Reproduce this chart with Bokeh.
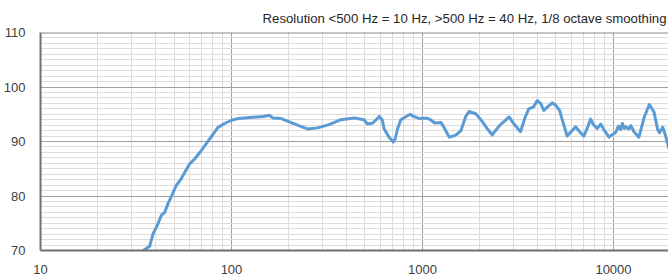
from bokeh.plotting import figure
from bokeh.models import FixedTicker, PrintfTickFormatter, Range1d, Span
from bokeh.embed import file_html
from bokeh.resources import INLINE

title_text = "Resolution <500 Hz = 10 Hz, >500 Hz = 40 Hz, 1/8 octave smoothing"

freq = [34.5, 37.3, 38.8, 41.2, 43, 44.7, 46.5, 49, 51.3, 54.6, 57.5, 60.4, 64.1, 69.4, 73, 76.9,
        81, 85, 92, 100, 108, 117, 125, 137, 147, 158, 165, 182, 204, 225, 250, 282, 324, 374,
        440, 494, 515, 550, 594, 615, 630, 668, 703, 720, 740, 770, 813, 862, 897, 970, 1050,
        1100, 1160, 1250, 1300, 1380, 1450, 1500, 1590, 1680, 1750, 1900, 2000, 2070, 2200,
        2320, 2450, 2560, 2700, 2840, 3000, 3260, 3450, 3600, 3800, 3990, 4150, 4320, 4500,
        4780, 5000, 5220, 5500, 5720, 6000, 6330, 6650, 6990, 7300, 7590, 7900, 8230, 8570,
        8900, 9470, 9800, 10280, 10600, 10900, 11140, 11400, 11600, 12000, 12330, 12800,
        13580, 14000, 14500, 15400, 16300, 17000, 17400, 18100, 18700, 19200, 19600]
spl = [70.0, 70.8, 73.0, 74.9, 76.5, 77.0, 78.6, 80.3, 81.9, 83.2, 84.6, 85.9, 86.8, 88.3, 89.4, 90.5,
       91.6, 92.6, 93.3, 93.9, 94.2, 94.3, 94.4, 94.5, 94.6, 94.8, 94.3, 94.2, 93.5, 92.9, 92.3, 92.5, 93.1, 94.0,
       94.3, 94.0, 93.2, 93.4, 94.6, 94.0, 92.3, 90.8, 89.9, 90.5, 92.3, 94.0, 94.5, 95.0, 94.6, 94.2, 94.3,
       94.0, 93.4, 93.5, 92.5, 90.8, 91.0, 91.2, 92.0, 94.5, 95.5, 95.1, 94.2, 93.5, 92.2,
       91.2, 92.3, 93.1, 93.8, 94.5, 93.3, 91.8, 94.5, 96.0, 96.3, 97.5, 97.0, 95.7, 96.3,
       97.1, 96.6, 95.7, 93.0, 91.0, 91.8, 92.7, 91.8, 91.0, 92.5, 94.1, 93.0, 92.4, 93.2,
       92.2, 90.8, 91.2, 91.7, 92.8, 92.2, 93.3, 92.4, 92.7, 92.3, 92.9, 91.8,
       90.8, 92.5, 94.5, 96.8, 95.4, 92.3, 91.6, 92.6, 91.2, 89.6, 88.5]

x_major = [10, 100, 1000, 10000]
x_minor = [20, 30, 40, 50, 60, 70, 80, 90,
           200, 300, 400, 500, 600, 700, 800, 900,
           2000, 3000, 4000, 5000, 6000, 7000, 8000, 9000]
y_major = [70, 80, 90, 100, 110]
y_minor = [71, 72, 73, 74, 75, 76, 77, 78, 79, 81, 82, 83, 84, 85, 86, 87, 88, 89,
           91, 92, 93, 94, 95, 96, 97, 98, 99, 101, 102, 103, 104, 105, 106, 107, 108, 109]

p = figure(width=668, height=276, x_axis_type="log", output_backend="svg",
           toolbar_location=None,
           x_range=Range1d(10, 19410), y_range=Range1d(70, 110),
           min_border_left=39, min_border_right=0, min_border_top=32, min_border_bottom=26)
p.outline_line_color = None
p.background_fill_color = "white"
p.border_fill_color = "white"

p.title.text = title_text
p.title.align = "right"
p.title.vertical_align = "middle"
p.title.text_font = "Liberation Sans"
p.title.text_font_size = "13.2px"
p.title.text_font_style = "normal"
p.title.text_color = "#262626"
p.title.standoff = 12
p.title.offset = 2

p.xaxis.ticker = FixedTicker(ticks=x_major, minor_ticks=x_minor)
p.yaxis.ticker = FixedTicker(ticks=y_major, minor_ticks=y_minor)
p.xaxis.formatter = PrintfTickFormatter(format="%d")

for ax in (p.xaxis, p.yaxis):
    ax.axis_line_color = "#6e6e6e"
    ax.axis_line_width = 2
    ax.major_tick_line_color = None
    ax.minor_tick_line_color = None
    ax.major_label_text_font = "Liberation Sans"
    ax.major_label_text_font_size = "13px"
    ax.major_label_text_color = "#404040"
p.yaxis.major_label_standoff = 9
p.xaxis.major_label_standoff = 8

for g in (p.xgrid, p.ygrid):
    g.grid_line_color = "#a0a0a0"
    g.grid_line_width = 1
    g.minor_grid_line_color = "#dcdcdc"
    g.minor_grid_line_width = 1

p.add_layout(Span(location=110, dimension="width", line_color="#8a8a8a", line_width=2))

p.line(freq, spl, line_color="#5b9bd5", line_width=3, line_join="round")

open("out.html", "w").write(file_html(p, INLINE))
